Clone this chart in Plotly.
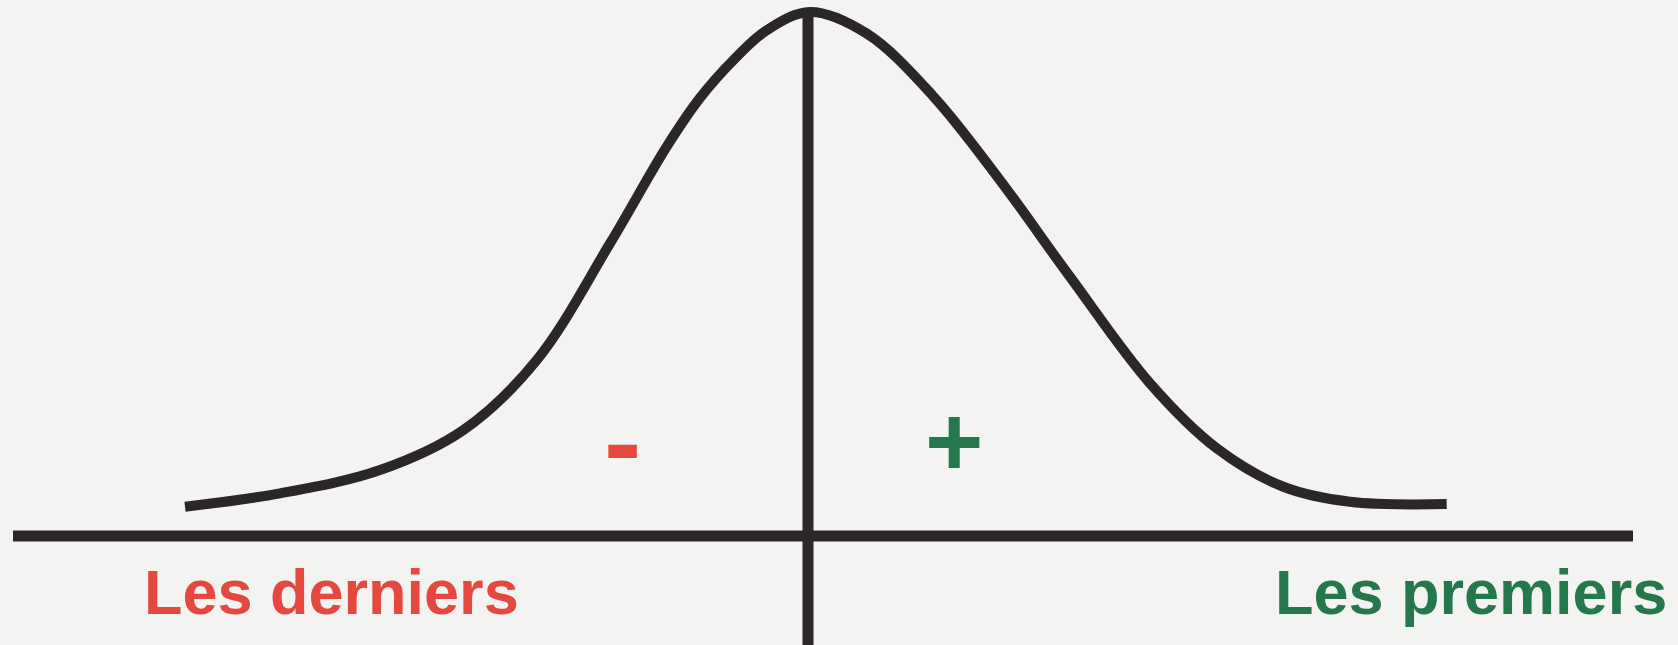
import plotly.graph_objects as go

# Bell curve (x: position, y: relative frequency, peak = 100)
curve_x = [-3.115, -2.64, -2.14, -1.7235, -1.3565, -0.99, -0.7065, -0.54, -0.3735,
           -0.2065, 0.01, 0.2935, 0.6265, 0.96, 1.31, 1.71, 2.0435, 2.3765, 2.71, 3.1935]
curve_y = [5.59, 8.14, 12.59, 20.22, 33.57, 55.83, 74.3, 83.6, 90.79,
           96.51, 100.0, 95.88, 83.92, 67.90, 49.46, 29.12, 16.73, 9.40, 6.54, 6.10]

# Horizontal axis extent and vertical (mean) line extent
hline_x = [-3.975, 4.125]
hline_y = [0, 0]
vline_x = [0, 0]
vline_y = [100.5, -25]

# Labels
label_text = ["Les derniers", "Les premiers"]
label_x = [-3.33, 2.325]
label_y = [-10.7, -10.7]
sign_text = ["-", "+"]
sign_x = [-0.9275, 0.73]
sign_y = [18.0, 18.1]

RED = "#e4483e"
GREEN = "#24784b"
INK = "#2b2729"

fig = go.Figure()
fig.add_trace(go.Scatter(x=hline_x, y=hline_y, mode="lines",
                         line=dict(color=INK, width=11), hoverinfo="skip"))
fig.add_trace(go.Scatter(x=vline_x, y=vline_y, mode="lines",
                         line=dict(color=INK, width=11), hoverinfo="skip"))
fig.add_trace(go.Scatter(x=curve_x, y=curve_y, mode="lines",
                         line=dict(color=INK, width=10, shape="spline", smoothing=1.0),
                         hoverinfo="skip"))

fontfam = "Liberation Sans, Arial, Helvetica, sans-serif"
fig.add_annotation(x=label_x[0], y=label_y[0], text=label_text[0], showarrow=False,
                   xanchor="left", yanchor="middle",
                   font=dict(family=fontfam, size=63, color=RED, weight="bold"))
fig.add_annotation(x=label_x[1], y=label_y[1], text=label_text[1], showarrow=False,
                   xanchor="left", yanchor="middle",
                   font=dict(family=fontfam, size=63, color=GREEN, weight="bold"))
fig.add_annotation(x=sign_x[0], y=sign_y[0], text=sign_text[0], showarrow=False,
                   xanchor="center", yanchor="middle",
                   font=dict(family=fontfam, size=112, color=RED, weight="bold"))
fig.add_annotation(x=sign_x[1], y=sign_y[1], text=sign_text[1], showarrow=False,
                   xanchor="center", yanchor="middle",
                   font=dict(family=fontfam, size=100, color=GREEN, weight="bold"))

fig.update_layout(
    width=1678, height=645,
    margin=dict(l=0, r=0, t=0, b=0),
    paper_bgcolor="#f3f3f1", plot_bgcolor="#f3f3f1",
    showlegend=False,
    xaxis=dict(range=[-4.04, 4.35], visible=False, fixedrange=True),
    yaxis=dict(range=[-20.80, 102.29], visible=False, fixedrange=True),
)

fig.write_html("out.html", config={"displayModeBar": False},
               post_script="document.body.style.margin='0';document.body.style.overflow='hidden';")
